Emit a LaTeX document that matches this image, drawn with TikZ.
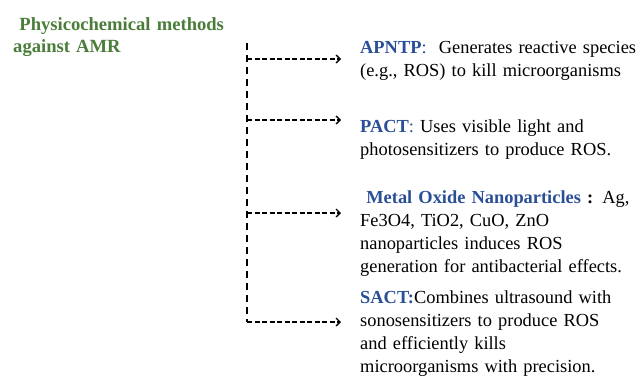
\documentclass[tikz,border=0pt]{standalone}
\usepackage{fontspec}
\setmainfont{Liberation Serif}
\usetikzlibrary{arrows.meta}
\definecolor{titlegreen}{HTML}{4A7D3A}
\definecolor{headblue}{HTML}{2B4F96}
\tikzset{
  txt/.style={anchor=base west, inner sep=0pt, text width=300pt, align=left,
    font=\fontsize{18.4}{23}\selectfont},
  vline/.style={line width=1.4pt, dash pattern=on 7pt off 5pt},
  harrow/.style={line width=1.4pt, dash pattern=on 5pt off 2.5pt,
    -{Straight Barb[length=4pt,width=8pt,line width=1.4pt]}},
}
\newcommand{\hd}[1]{\textcolor{headblue}{\textbf{#1}}}
\begin{document}
\begin{tikzpicture}[x=1pt,y=-1pt]
\useasboundingbox (0,0) rectangle (641,383);
\node[anchor=base west, inner sep=0pt, text width=250pt, align=left, text=titlegreen,
  font=\fontsize{18.6}{22}\selectfont\bfseries] (title) at (13,30)
  {\ Physicochemical methods\\against AMR};
\coordinate (top) at (247,43);
\coordinate (bot) at (247,322);
\draw[vline] (top) -- (bot);
\coordinate (s1) at (247,59);  \coordinate (e1) at (341,59);
\coordinate (s2) at (247,120); \coordinate (e2) at (341,120);
\coordinate (s3) at (247,213); \coordinate (e3) at (341,213);
\coordinate (s4) at (247,322); \coordinate (e4) at (341,322);
\foreach \i in {1,...,4}{\draw[harrow] (s\i) -- (e\i);}
\node[txt] (apntp) at (360,53)
  {\hd{APNTP}\textcolor{headblue}{:}\ \ Generates reactive species\\(e.g., ROS) to kill microorganisms};
\node[txt] (pact) at (360,132)
  {\hd{PACT}\textcolor{headblue}{:} Uses visible light and\\photosensitizers to produce ROS.};
\node[txt] (metal) at (360,203)
  {\ \hd{Metal Oxide Nanoparticles} \textbf{:} Ag,\\Fe3O4, TiO2, CuO, ZnO\\nanoparticles induces ROS\\generation for antibacterial effects.};
\node[txt] (sact) at (360,303)
  {\hd{SACT:}Combines ultrasound with\\sonosensitizers to produce ROS\\and efficiently kills\\microorganisms with precision.};
\end{tikzpicture}
\end{document}
